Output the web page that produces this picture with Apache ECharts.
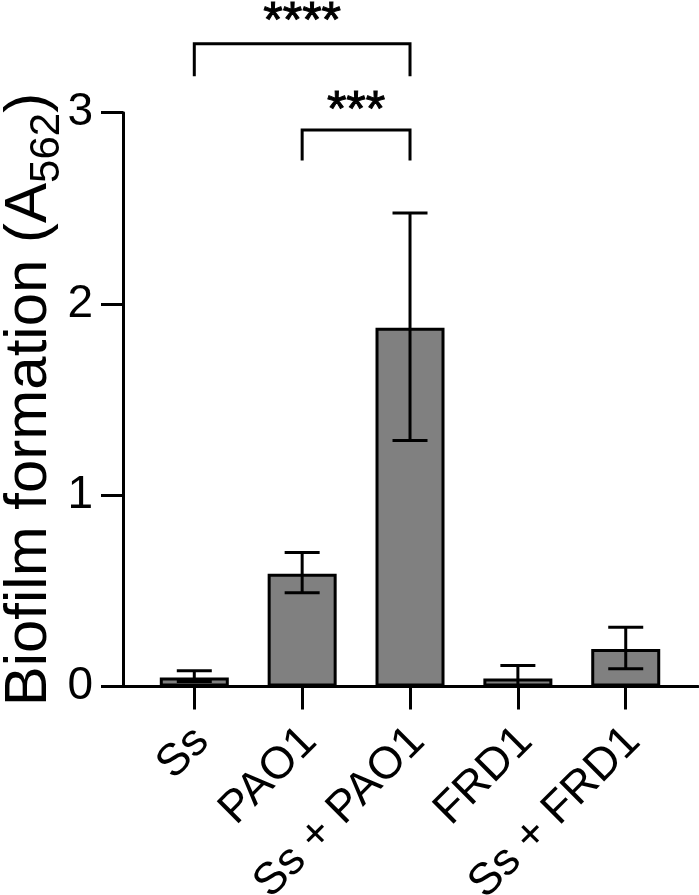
<!DOCTYPE html>
<html><head><meta charset="utf-8">
<script src="https://cdn.jsdelivr.net/npm/echarts@6/dist/echarts.min.js"></script>
<style>html,body{margin:0;padding:0;background:#fff}#c{width:699px;height:895px}</style>
</head><body><div id="c"></div>
<script>
const categories = ['Ss', 'PAO1', 'Ss + PAO1', 'FRD1', 'Ss + FRD1'];
const positions = [0, 1, 2, 3, 4];
const means = [0.047, 0.59, 1.876, 0.042, 0.196];
const errLow = [0.026, 0.49, 1.286, 0.0, 0.093];
const errHigh = [0.082, 0.70, 2.476, 0.11, 0.31];
const yTicks = [0, 1, 2, 3];
const bracketFrom = [0, 1];
const bracketTo = [2, 2];
const bracketTop = [3.36, 2.91];
const bracketLeg = [3.19, 2.75];
const bracketText = ['****', '***'];
const bracketTextY = [3.47, 3.0];

const FONT = "'Liberation Sans', Arial, sans-serif";
const chart = echarts.init(document.getElementById('c'), null, { renderer: 'canvas' });

const barData = positions.map((p, i) => [p, means[i]]);
const errData = positions.map((p, i) => [p, errLow[i], errHigh[i]]);
const brData = bracketFrom.map((f, i) => [f, bracketTop[i], bracketTo[i], bracketLeg[i], bracketTextY[i], i]);
const LW = 3;
const X_MIN = -0.661, X_MAX = 4.670;
const LABEL_SHIFT = 0.07;
const gridRect = { left: 123, right: 1, top: 112.7, bottom: 208.5, containLabel: false, outerBoundsMode: 'none' };

chart.setOption({
  animation: false,
  backgroundColor: '#fff',
  grid: [Object.assign({}, gridRect), Object.assign({}, gridRect)],
  xAxis: [{
    type: 'value', min: X_MIN, max: X_MAX, gridIndex: 0,
    splitLine: { show: false },
    axisLine: { show: true, onZero: false, lineStyle: { color: '#000', width: LW } },
    axisTick: { show: true, customValues: positions, length: 23, lineStyle: { color: '#000', width: LW } },
    axisLabel: { show: false }
  }, {
    type: 'value', min: X_MIN - LABEL_SHIFT, max: X_MAX - LABEL_SHIFT, gridIndex: 1, position: 'bottom',
    splitLine: { show: false },
    axisLine: { show: false, onZero: false },
    axisTick: { show: false },
    axisLabel: {
      customValues: positions, formatter: v => categories[Math.round(v)],
      rotate: 45, fontSize: 45, fontFamily: FONT, color: '#000', margin: 48
    }
  }],
  yAxis: [{
    type: 'value', min: 0, max: 3, interval: 1, gridIndex: 0,
    splitLine: { show: false },
    axisLine: { show: true, onZero: false, lineStyle: { color: '#000', width: LW } },
    axisTick: { show: true, customValues: yTicks, length: 22, lineStyle: { color: '#000', width: LW } },
    axisLabel: { fontSize: 46, fontFamily: FONT, color: '#000', margin: 30, customValues: yTicks },
    name: 'Biofilm formation (A{sub|562}{n|)}',
    nameLocation: 'middle', nameRotate: 90, nameGap: 55, nameMoveOverlap: false,
    nameTextStyle: {
      fontSize: 60, fontFamily: FONT, color: '#000',
      rich: {
        sub: { fontSize: 42, fontFamily: FONT, color: '#000', verticalAlign: 'bottom', lineHeight: 78 },
        n: { fontSize: 60, fontFamily: FONT, color: '#000' }
      }
    }
  }, {
    type: 'value', min: 0, max: 3, gridIndex: 1, show: false
  }],
  series: [
    {
      type: 'bar', data: barData, barWidth: 69, xAxisIndex: 0, yAxisIndex: 0,
      itemStyle: { color: '#808080', borderColor: '#000', borderWidth: LW },
      z: 2
    },
    {
      type: 'custom', data: errData, clip: false, z: 3, xAxisIndex: 0, yAxisIndex: 0,
      renderItem: (params, api) => {
        const x = api.value(0), lo = api.value(1), hi = api.value(2);
        const t = api.coord([x, hi]), b = api.coord([x, lo]);
        const w = 17.5;
        const style = { stroke: '#000', lineWidth: LW, fill: null };
        return { type: 'group', children: [
          { type: 'line', shape: { x1: t[0], y1: t[1], x2: b[0], y2: b[1] }, style },
          { type: 'line', shape: { x1: t[0] - w, y1: t[1], x2: t[0] + w, y2: t[1] }, style },
          { type: 'line', shape: { x1: b[0] - w, y1: b[1], x2: b[0] + w, y2: b[1] }, style }
        ]};
      }
    },
    {
      type: 'custom', data: brData, clip: false, z: 4, xAxisIndex: 0, yAxisIndex: 0,
      renderItem: (params, api) => {
        const f = api.value(0), top = api.value(1), to = api.value(2), leg = api.value(3), ty = api.value(4), idx = api.value(5);
        const a = api.coord([f, top]), b = api.coord([to, top]);
        const la = api.coord([f, leg]), lb = api.coord([to, leg]);
        const tp = api.coord([(f + to) / 2, ty]);
        const style = { stroke: '#000', lineWidth: LW, fill: null };
        return { type: 'group', children: [
          { type: 'polyline', shape: { points: [[la[0], la[1]], [a[0], a[1]], [b[0], b[1]], [lb[0], lb[1]]] }, style },
          { type: 'text', x: tp[0], y: tp[1], style: { text: bracketText[idx], fontSize: 50, fontFamily: FONT, fill: '#000', stroke: '#000', lineWidth: 1, align: 'center', verticalAlign: 'middle' } }
        ]};
      }
    }
  ]
});
</script></body></html>
